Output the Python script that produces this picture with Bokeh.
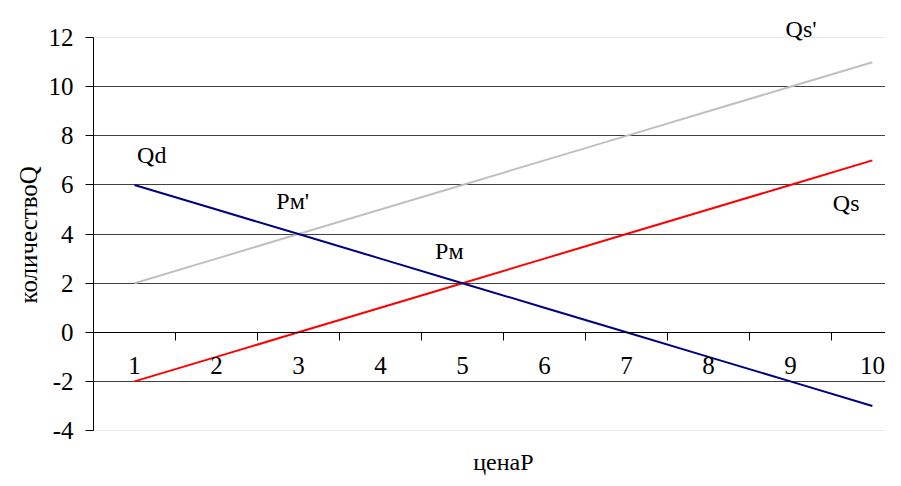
from bokeh.plotting import figure
from bokeh.models import (Range1d, LinearAxis, FixedTicker, Label, ColumnDataSource, Grid, Title)
from bokeh.embed import file_html
from bokeh.resources import INLINE

# ---- data ----
prices = [1, 2, 3, 4, 5, 6, 7, 8, 9, 10]
qd = [6, 5, 4, 3, 2, 1, 0, -1, -2, -3]
qs = [-2, -1, 0, 1, 2, 3, 4, 5, 6, 7]
qs2 = [2, 3, 4, 5, 6, 7, 8, 9, 10, 11]
y_ticks = [-4, -2, 0, 2, 4, 6, 8, 10, 12]
y_tick_text = {-4: "-4", -2: "-2"}
grid_ticks = [-2, 0, 2, 4, 6, 8, 10]
edge_ticks = [-4, 12]
cat_bounds = [1.5, 2.5, 3.5, 4.5, 5.5, 6.5, 7.5, 8.5, 9.5]
notes = [("Qd", 1.21, 7.2), ("Pм'", 2.93, 5.36), ("Pм", 4.84, 3.33),
         ("Qs", 9.68, 5.28), ("Qs'", 9.13, 12.37)]
x_title = "ценаP"
x_title_pos = (5.5, -5.3)
y_title = "количествоQ"

FONT = "Liberation Serif"

p = figure(width=885, height=478, output_backend="svg", toolbar_location=None,
           x_range=Range1d(0.5, 10.16), y_range=Range1d(-5.954, 12.86),
           x_axis_location=None, y_axis_location=None,
           min_border_left=93, min_border_right=0, min_border_top=16,
           min_border_bottom=0)
p.outline_line_color = None
p.background_fill_color = "white"
p.border_fill_color = "white"

# y axis
ya = LinearAxis(ticker=FixedTicker(ticks=y_ticks), bounds=(-4, 12))
ya.axis_line_color = "black"
ya.major_tick_line_color = "black"
ya.major_tick_out = 8
ya.major_tick_in = 0
ya.minor_tick_line_color = None
ya.major_label_overrides = y_tick_text
ya.major_label_text_font = FONT
ya.major_label_text_font_size = "25px"
ya.major_label_text_color = "black"
ya.major_label_standoff = 12
p.add_layout(ya, "left")

p.add_layout(Title(text=y_title, align="left", offset=175, standoff=8,
                   text_font=FONT, text_font_size="25px", text_font_style="normal",
                   text_color="black"), "left")

# x axis line at y=0 with ticks between categories
xa = LinearAxis(ticker=FixedTicker(ticks=[], minor_ticks=cat_bounds), fixed_location=0)
xa.axis_line_color = "black"
xa.major_tick_line_color = None
xa.minor_tick_line_color = "black"
xa.minor_tick_out = 8
xa.minor_tick_in = 0
xa.major_label_text_font_size = "0px"
p.add_layout(xa, "below")

# category labels sitting on the -2 line
xl = LinearAxis(ticker=FixedTicker(ticks=prices), fixed_location=-2)
xl.axis_line_color = None
xl.major_tick_line_color = None
xl.minor_tick_line_color = None
xl.major_label_text_font = FONT
xl.major_label_text_font_size = "25px"
xl.major_label_text_color = "black"
xl.major_label_standoff = 1
p.add_layout(xl, "above")

p.xgrid.visible = False
p.ygrid.ticker = FixedTicker(ticks=grid_ticks)
p.ygrid.grid_line_color = "#404040"
p.ygrid.grid_line_width = 1
p.add_layout(Grid(dimension=1, ticker=FixedTicker(ticks=edge_ticks),
                  grid_line_color="#e8e8e8", grid_line_width=1))

src = ColumnDataSource(dict(x=prices, qd=qd, qs=qs, qs2=qs2))
p.line("x", "qs2", source=src, line_color="#c0c0c0", line_width=2)
p.line("x", "qs", source=src, line_color="#ff0000", line_width=2)
p.line("x", "qd", source=src, line_color="#000080", line_width=2)

for t, x, y in notes:
    p.add_layout(Label(x=x, y=y, text=t, text_align="center", text_baseline="middle",
                       text_font=FONT, text_font_size="24px", text_color="black"))

p.add_layout(Label(x=x_title_pos[0], y=x_title_pos[1], text=x_title,
                   text_align="center", text_baseline="middle",
                   text_font=FONT, text_font_size="24px", text_color="black"))

open("out.html", "w").write(file_html(p, INLINE))
